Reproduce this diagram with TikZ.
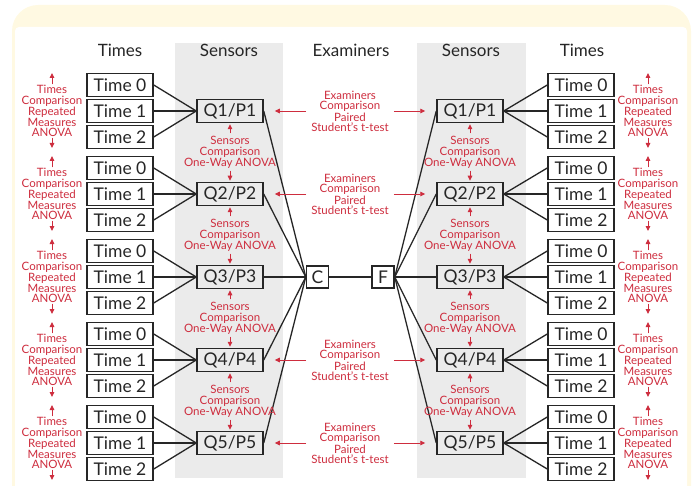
\documentclass[tikz,border=0pt]{standalone}
\usepackage{fontspec}
\setmainfont{Lato}
\usetikzlibrary{arrows.meta}
\definecolor{cream}{HTML}{FFF9E2}
\definecolor{band}{HTML}{EBEBEB}
\definecolor{ink}{HTML}{262626}
\definecolor{anno}{RGB}{206,45,62}
\begin{document}
\begin{tikzpicture}[x=1pt,y=-1pt,
  tbox/.style={draw=ink,line width=1.5pt,fill=white,minimum width=66pt,minimum height=23pt,inner sep=0pt,text=ink,font=\fontsize{17.5}{18}\selectfont},
  qbox/.style={tbox,fill=none},
  cbox/.style={draw=ink,line width=1.5pt,fill=white,minimum width=22pt,minimum height=22pt,inner sep=0pt,text=ink,font=\fontsize{17.5}{18}\selectfont},
  head/.style={text=ink,font=\fontsize{17}{18}\selectfont,inner sep=0pt},
  conn/.style={draw=ink,line width=1.3pt},
  anno/.style={text=anno,align=center,inner sep=0pt,font=\fontsize{11.5}{10.3}\selectfont},
  aarrow/.style={draw=anno,line width=0.9pt,-{Triangle[length=5pt,width=4.5pt]}}
]
\useasboundingbox (0,0) rectangle (695,486);
\clip (0,0) rectangle (695,486);
% frame
\fill[cream,rounded corners=26pt] (12,530) rectangle (691,5);
\fill[white,rounded corners=4pt] (15,530) rectangle (687,27);
% bands
\fill[band] (175,43) rectangle (283,478);
\fill[band] (417,43) rectangle (526,478);
% headers
\node[head] (h1) at (120,50) {Times};
\node[head] (h2) at (229,50) {Sensors};
\node[head] (h3) at (351,50) {Examiners};
\node[head] (h4) at (471,50) {Sensors};
\node[head] (h5) at (582,50) {Times};
% C and F
\node[cbox] (C) at (317.5,277) {C};
\node[cbox] (F) at (383,277) {F};
\draw[conn] (C.east) -- (F.west);
\foreach \i in {1,...,5}{
  \pgfmathsetmacro\yc{111+83*(\i-1)}
  \node[qbox] (lq\i) at (230,\yc) {Q\i/P\i};
  \node[qbox] (rq\i) at (470,\yc) {Q\i/P\i};
  \draw[conn] (lq\i.east) -- (C.west);
  \draw[conn] (F.east) -- (rq\i.west);
  \foreach \k/\d in {0/-26,1/0,2/26}{
    \node[tbox] (lt\i\k) at (120,\yc+\d) {Time \k};
    \node[tbox] (rt\i\k) at (581,\yc+\d) {Time \k};
    \draw[conn] (lt\i\k.east) -- (lq\i.west);
    \draw[conn] (rq\i.east) -- (rt\i\k.west);
  }
  % times comparison
  \node[anno] (lta\i) at (52,\yc) {Times\\Comparison\\Repeated\\Measures\\ANOVA};
  \node[anno] (rta\i) at (648,\yc) {Times\\Comparison\\Repeated\\Measures\\ANOVA};
  \coordinate (ltu\i) at (52,\yc-38);
  \coordinate (ltd\i) at (52,\yc+37);
  \coordinate (rtu\i) at (648,\yc-38);
  \coordinate (rtd\i) at (648,\yc+37);
  \draw[aarrow,shorten <=1pt] (lta\i.north) -- (ltu\i);
  \draw[aarrow,shorten <=1pt] (lta\i.south) -- (ltd\i);
  \draw[aarrow,shorten <=1pt] (rta\i.north) -- (rtu\i);
  \draw[aarrow,shorten <=1pt] (rta\i.south) -- (rtd\i);
}
% sensors comparison
\foreach \i/\j in {1/2,2/3,3/4,4/5}{
  \pgfmathsetmacro\ys{152.5+83*(\i-1)}
  \node[anno] (lsa\i) at (230,\ys) {Sensors\\Comparison\\One-Way ANOVA};
  \node[anno] (rsa\i) at (470,\ys) {Sensors\\Comparison\\One-Way ANOVA};
  \draw[aarrow,shorten <=3pt,shorten >=1pt] (lsa\i.north) -- (lq\i.south);
  \draw[aarrow,shorten <=2pt,shorten >=1pt] (lsa\i.south) -- (lq\j.north);
  \draw[aarrow,shorten <=3pt,shorten >=1pt] (rsa\i.north) -- (rq\i.south);
  \draw[aarrow,shorten <=2pt,shorten >=1pt] (rsa\i.south) -- (rq\j.north);
}
% examiners comparison
\foreach \i in {1,2,4,5}{
  \pgfmathsetmacro\yc{111.5+83*(\i-1)}
  \node[anno] (ea\i) at (350,\yc) {Examiners\\Comparison\\Paired\\Student’s t-test};
  \draw[aarrow,shorten <=5pt,shorten >=11pt] (ea\i.west |- lq\i.east) -- (lq\i.east);
  \draw[aarrow,shorten <=5pt,shorten >=11pt] (ea\i.east |- rq\i.west) -- (rq\i.west);
}
\end{tikzpicture}
\end{document}
